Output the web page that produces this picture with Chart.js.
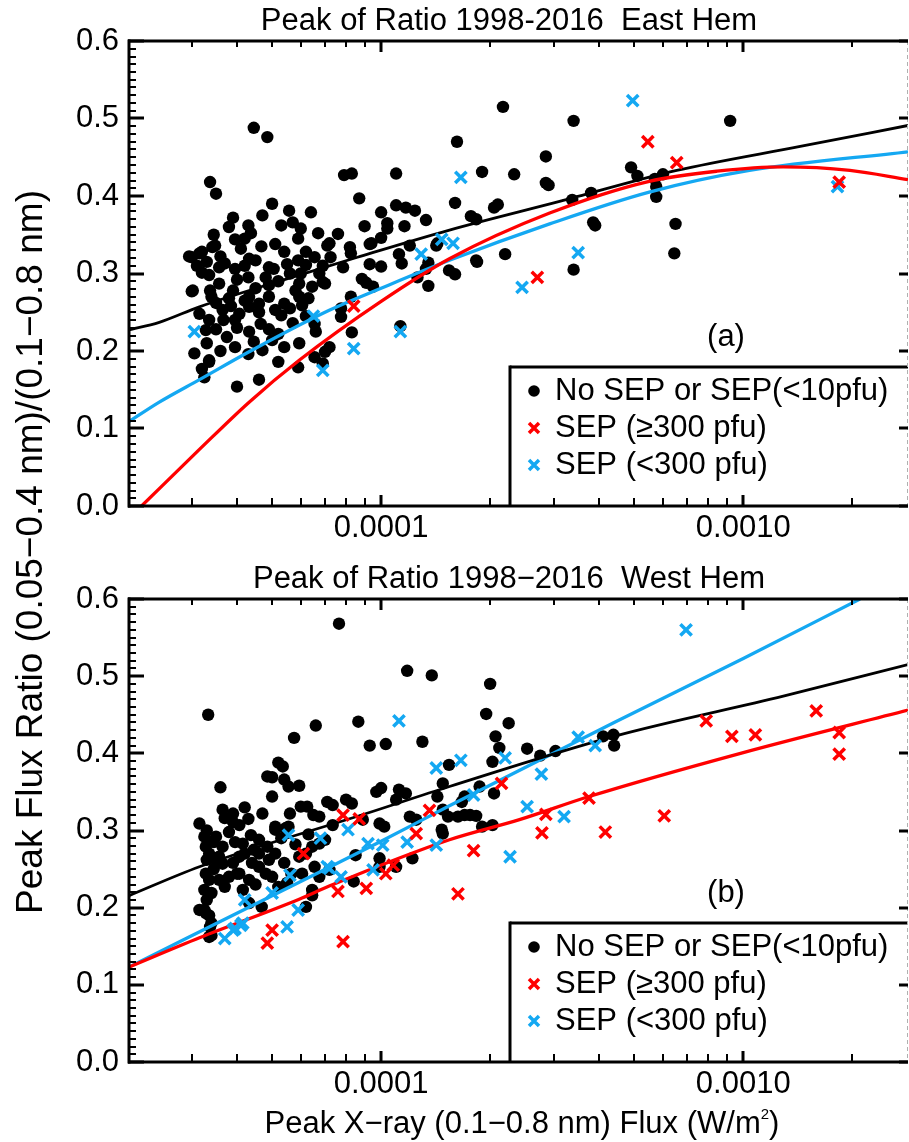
<!DOCTYPE html>
<html>
<head>
<meta charset="utf-8">
<script src="https://cdn.jsdelivr.net/npm/chart.js@4.4.1/dist/chart.umd.min.js"></script>
<style>
  html, body { margin: 0; padding: 0; background: #fff; }
  #wrap { position: relative; width: 909px; height: 1142px; }
  canvas { position: absolute; left: 0; top: 0; }
</style>
</head>
<body>
<div id="wrap">
  <canvas id="west" width="909" height="1142"></canvas>
  <canvas id="east" width="909" height="1142"></canvas>
</div>
<script>
const FONT = "'Liberation Sans', Arial, Helvetica, sans-serif";
const RED = "#ff0000";
const BLUE = "#14a8f2";

// axes
const xRange = [2.0e-5, 2.85e-3];
const yRange = [0, 0.6];
const xTickValues = [0.0001, 0.001];
const xTickLabels = ["0.0001", "0.0010"];

const titles = ["Peak of Ratio 1998-2016  East Hem", "Peak of Ratio 1998\u22122016  West Hem"];
const panelLabels = ["(a)", "(b)"];
const legendLabels = ["No SEP or SEP(<10pfu)", "SEP (\u2265300 pfu)", "SEP (<300 pfu)"];
const yTitle = "Peak Flux Ratio (0.05\u22120.4 nm)/(0.1\u22120.8 nm)";
const xTitle = "Peak X\u2212ray (0.1\u22120.8 nm) Flux (W/m";

// east hemisphere: [peak flux, ratio]
const eastNoSep = [
  [3.37e-5,0.418],[3.5e-5,0.403],[5.0e-5,0.390],[5.57e-5,0.381],[6.4e-5,0.379],[4.7e-5,0.375],[3.9e-5,0.372],[5.7e-5,0.366],[5.3e-5,0.362],[3.8e-5,0.360],
  [4.37e-5,0.352],[3.95e-5,0.344],[4.67e-5,0.335],[3.48e-5,0.336],[5.1e-5,0.338],[5.4e-5,0.328],[4.1e-5,0.332],[3.2e-5,0.328],[3.0e-5,0.321],[6.2e-5,0.328],
  [6.55e-5,0.321],[7.1e-5,0.336],[3.7e-5,0.313],[4.32e-5,0.319],[4.5e-5,0.317],[5.9e-5,0.317],[3.57e-5,0.308],[4.9e-5,0.308],[5.05e-5,0.306],[3.95e-5,0.306],
  [6.2e-5,0.311],[3.2e-5,0.301],[4.3e-5,0.295],[3.35e-5,0.298],[5.6e-5,0.300],[6.75e-5,0.300],[3.57e-5,0.287],[4.9e-5,0.285],[5.94e-5,0.287],[7.0e-5,0.287],
  [3.02e-5,0.278],[3.37e-5,0.278],[3.9e-5,0.278],[4.5e-5,0.281],[6.45e-5,0.283],[5.8e-5,0.278],[3.4e-5,0.270],[3.8e-5,0.268],[4.32e-5,0.270],[4.9e-5,0.270],
  [5.94e-5,0.270],[4.6e-5,0.261],[5.4e-5,0.261],[6.05e-5,0.259],[3.15e-5,0.248],[3.65e-5,0.253],[4.06e-5,0.248],[4.32e-5,0.257],[4.6e-5,0.250],[5.3e-5,0.246],
  [3.35e-5,0.240],[3.67e-5,0.240],[3.95e-5,0.240],[4.65e-5,0.235],[6.55e-5,0.235],[3.28e-5,0.227],[4.32e-5,0.225],[5.2e-5,0.222],[6.6e-5,0.225],[3.3e-5,0.210],
  [3.75e-5,0.218],[4.45e-5,0.212],[4.7e-5,0.201],[5.4e-5,0.205],[5.94e-5,0.210],[3.95e-5,0.205],[3.05e-5,0.197],[7.0e-5,0.199],[5.2e-5,0.186],[6.55e-5,0.192],
  [3.35e-5,0.186],[3.2e-5,0.177],[3.25e-5,0.166],[5.9e-5,0.179],[6.9e-5,0.184],[4.6e-5,0.163],[4.0e-5,0.154],[4.45e-5,0.488],[4.85e-5,0.476],[7.9e-5,0.427],
  [8.3e-5,0.429],[1.1e-4,0.429],[1.62e-4,0.470],[8.7e-5,0.397],[1.1e-4,0.388],[1.17e-4,0.385],[1.24e-4,0.381],[1.0e-4,0.379],[1.33e-4,0.369],[1.04e-4,0.365],
  [1.04e-4,0.358],[9.0e-5,0.361],[1.16e-4,0.361],[1.6e-4,0.391],[1.0e-4,0.346],[9.3e-5,0.338],[7.6e-5,0.351],[7.2e-5,0.339],[8.2e-5,0.334],[1.42e-4,0.336],
  [1.2e-4,0.336],[2.95e-5,0.322],[3.15e-5,0.326],[3.42e-5,0.334],[2.17e-4,0.515],[1.9e-4,0.431],[2.33e-4,0.428],[2.05e-4,0.385],[2.1e-4,0.389],[1.77e-4,0.374],
  [1.83e-4,0.370],[9.4e-5,0.339],[1.43e-4,0.339],[2.2e-4,0.325],[1.84e-4,0.315],[7.25e-5,0.321],[1.12e-4,0.325],[1.14e-4,0.313],[8.25e-5,0.326],[9.3e-5,0.312],
  [1.0e-4,0.309],[7.85e-5,0.308],[1.35e-4,0.314],[1.33e-4,0.306],[1.54e-4,0.304],[1.6e-4,0.299],[8.85e-5,0.293],[9.1e-5,0.288],[9.5e-5,0.283],[6.9e-5,0.289],
  [1.26e-4,0.295],[1.35e-4,0.284],[8.25e-5,0.270],[7.75e-5,0.255],[7.75e-5,0.244],[8.3e-5,0.224],[1.13e-4,0.232],[7.2e-5,0.205],[3.4e-4,0.497],[9.2e-4,0.497],
  [2.85e-4,0.451],[2.85e-4,0.417],[2.9e-4,0.414],[4.9e-4,0.437],[5.1e-4,0.426],[5.7e-4,0.422],[6.0e-4,0.428],[5.75e-4,0.412],[5.75e-4,0.399],[3.8e-4,0.404],
  [3.37e-4,0.395],[3.85e-4,0.366],[3.9e-4,0.362],[6.5e-4,0.364],[6.45e-4,0.326],[1.83e-4,0.317],[3.4e-4,0.305],[3.0e-5,0.277],[3.35e-5,0.188],
  [3.1e-5,0.310],[3.3e-5,0.315],[3.6e-5,0.322],[4.2e-5,0.310],[4.0e-5,0.292],[4.8e-5,0.295],[5.2e-5,0.290],[5.5e-5,0.312],[6.0e-5,0.300],[6.9e-5,0.310],
  [3.5e-5,0.262],[3.85e-5,0.258],[4.2e-5,0.265],[5.1e-5,0.253],[5.6e-5,0.255],[6.3e-5,0.268],[3.5e-5,0.228],[4.0e-5,0.230],[4.9e-5,0.228],[5.7e-5,0.236],
  [6.2e-5,0.245],[3.6e-5,0.200],[4.3e-5,0.196],[5.0e-5,0.214],[3.45e-5,0.350],[4.2e-5,0.345],[5.9e-5,0.345],[6.7e-5,0.352],[4.3e-5,0.362],[6.0e-5,0.358]
];
const eastSepHigh = [[8.4e-5,0.258],[2.7e-4,0.295],[5.45e-4,0.470],[6.55e-4,0.443],[1.84e-3,0.418]];
const eastSepLow = [
  [3.05e-5,0.225],[6.5e-5,0.245],[6.9e-5,0.175],[8.4e-5,0.203],[1.13e-4,0.225],[1.29e-4,0.325],[1.47e-4,0.344],
  [1.58e-4,0.339],[1.66e-4,0.424],[2.45e-4,0.282],[3.5e-4,0.327],[4.95e-4,0.523],[1.82e-3,0.412]
];
const eastFitNoSep = [[2.0e-5,0.227],[2.44e-5,0.237],[3.15e-5,0.257],[5.94e-5,0.298],[8.6e-5,0.321],[1.544e-4,0.356],[3.11e-4,0.393],[6.55e-4,0.433],[1.436e-3,0.464],[2.85e-3,0.491]];
const eastFitHigh = [[2.18e-5,0.0],[3.15e-5,0.073],[4.32e-5,0.134],[5.94e-5,0.188],[1.0e-4,0.264],[1.544e-4,0.319],[2.92e-4,0.378],[5.5e-4,0.419],[8.46e-4,0.432],[1.29e-3,0.4375],[1.97e-3,0.433],[2.85e-3,0.421]];
const eastFitLow = [[2.0e-5,0.108],[2.44e-5,0.134],[3.15e-5,0.163],[4.32e-5,0.199],[7.19e-5,0.2525],[1.0e-4,0.281],[1.544e-4,0.317],[2.92e-4,0.364],[5.5e-4,0.405],[1.04e-3,0.433],[2.85e-3,0.457]];

// west hemisphere
const westNoSep = [
  [7.65e-5,0.568],[1.18e-4,0.507],[1.38e-4,0.501],[3.33e-5,0.450],[6.6e-5,0.436],[5.75e-5,0.420],[8.65e-5,0.441],[9.3e-5,0.410],[1.03e-4,0.412],[1.3e-4,0.415],
  [1.54e-4,0.385],[5.2e-5,0.388],[5.35e-5,0.383],[4.85e-5,0.370],[5.0e-5,0.369],[5.4e-5,0.366],[5.55e-5,0.357],[5.94e-5,0.358],[3.6e-5,0.356],[4.2e-5,0.330],
  [5.0e-5,0.344],[3.65e-5,0.327],[3.9e-5,0.322],[3.15e-5,0.309],[9.7e-5,0.350],[1.0e-4,0.355],[1.12e-4,0.353],[1.17e-4,0.348],[1.48e-4,0.361],[1.43e-4,0.344],
  [7.1e-5,0.337],[7.35e-5,0.333],[8.0e-5,0.340],[8.3e-5,0.335],[6.0e-5,0.331],[6.25e-5,0.331],[5.6e-5,0.322],[6.5e-5,0.320],[6.75e-5,0.318],[7.35e-5,0.307],
  [9.9e-5,0.309],[1.02e-4,0.305],[1.1e-4,0.340],[1.2e-4,0.318],[1.25e-4,0.314],[1.48e-4,0.327],[1.53e-4,0.318],[1.47e-4,0.301],[8.9e-5,0.314],[5.1e-5,0.305],
  [5.55e-5,0.305],[3.25e-5,0.292],[3.5e-5,0.292],[3.28e-5,0.279],[3.35e-5,0.270],[3.7e-5,0.316],[3.9e-5,0.311],[4.06e-5,0.307],[4.6e-5,0.288],[4.37e-5,0.294],
  [3.95e-5,0.285],[5.1e-5,0.301],[5.45e-5,0.303],[3.3e-5,0.262],[3.5e-5,0.262],[3.65e-5,0.257],[4.06e-5,0.266],[4.2e-5,0.270],[4.6e-5,0.253],[4.9e-5,0.262],
  [5.1e-5,0.270],[4.8e-5,0.244],[5.0e-5,0.240],[4.0e-5,0.244],[4.32e-5,0.236],[3.28e-5,0.244],[3.35e-5,0.236],[3.25e-5,0.223],[3.4e-5,0.219],[3.7e-5,0.227],
  [4.15e-5,0.223],[3.3e-5,0.210],[3.25e-5,0.197],[3.35e-5,0.190],[4.68e-5,0.201],[5.2e-5,0.227],[5.65e-5,0.244],[6.05e-5,0.244],[5.94e-5,0.266],[6.2e-5,0.270],
  [6.45e-5,0.279],[6.75e-5,0.283],[7.0e-5,0.288],[6.55e-5,0.253],[6.45e-5,0.223],[6.2e-5,0.201],[6.75e-5,0.240],[7.2e-5,0.249],[3.37e-5,0.175],[3.4e-5,0.164],
  [3.15e-5,0.197],[3.28e-5,0.193],[3.35e-5,0.162],[3.4e-5,0.180],[6.45e-5,0.216],[8.4e-5,0.234],[1.1e-4,0.253],[1.22e-4,0.264],[1.48e-4,0.296],[2.0e-4,0.490],
  [1.95e-4,0.451],[2.25e-4,0.439],[2.07e-4,0.422],[2.12e-4,0.407],[2.03e-4,0.389],[1.87e-4,0.357],[1.7e-4,0.344],[1.67e-4,0.337],[2.05e-4,0.348],[1.63e-4,0.318],
  [1.7e-4,0.320],[1.76e-4,0.320],[1.83e-4,0.319],[1.9e-4,0.305],[2.03e-4,0.307],[8.5e-5,0.268],[9.9e-5,0.264],[9.9e-5,0.253],[2.53e-4,0.406],[2.75e-4,0.397],
  [3.03e-4,0.403],[4.1e-4,0.422],[4.38e-4,0.424],[4.4e-4,0.410],[3.57e-5,0.266],[3.65e-5,0.279],[4.15e-5,0.283],[4.45e-5,0.275],[3.57e-5,0.236],[4.06e-5,0.244],
  [4.6e-5,0.270],[4.85e-5,0.279],[4.32e-5,0.206],
  [3.3e-5,0.300],[3.45e-5,0.285],[3.8e-5,0.298],[4.3e-5,0.315],[4.7e-5,0.322],[5.3e-5,0.290],[5.8e-5,0.282],[6.3e-5,0.295],[3.45e-5,0.250],[3.9e-5,0.258],
  [4.4e-5,0.258],[5.4e-5,0.258],[3.8e-5,0.240],[4.5e-5,0.230],[5.5e-5,0.232]
];
const westSepHigh = [
  [7.85e-5,0.320],[8.7e-5,0.315],[1.36e-4,0.326],[1.25e-4,0.296],[6.1e-5,0.270],[5.0e-5,0.171],[4.85e-5,0.154],[7.6e-5,0.221],[7.85e-5,0.156],
  [9.1e-5,0.225],[1.03e-4,0.244],[1.08e-4,0.255],[1.63e-4,0.218],[2.15e-4,0.361],[1.8e-4,0.274],[2.85e-4,0.321],[2.78e-4,0.297],[3.75e-4,0.342],
  [4.16e-4,0.298],[6.05e-4,0.319],[7.9e-4,0.442],[9.3e-4,0.422],[1.08e-3,0.424],[1.59e-3,0.455],[1.84e-3,0.427],[1.84e-3,0.399]
];
const westSepLow = [
  [1.12e-4,0.442],[1.42e-4,0.381],[8.1e-5,0.301],[5.55e-5,0.294],[6.8e-5,0.290],[5.6e-5,0.242],[7.2e-5,0.251],[4.2e-5,0.210],[5.0e-5,0.219],
  [5.9e-5,0.197],[5.5e-5,0.175],[3.9e-5,0.171],[4.15e-5,0.180],[3.7e-5,0.160],[3.95e-5,0.173],[4.1e-5,0.177],[7.1e-5,0.253],[7.75e-5,0.240],
  [9.2e-5,0.283],[1.01e-4,0.281],[9.5e-5,0.249],[1.18e-4,0.285],[1.42e-4,0.281],[1.66e-4,0.391],[2.2e-4,0.394],[1.8e-4,0.346],[2.27e-4,0.266],
  [6.95e-4,0.560],[2.77e-4,0.373],[3.5e-4,0.421],[3.9e-4,0.410],[2.53e-4,0.331],[3.2e-4,0.318]
];
const westFitNoSep = [[2.0e-5,0.215],[3.15e-5,0.253],[9.1e-5,0.322],[1.544e-4,0.357],[4.4e-4,0.422],[1.29e-3,0.474],[2.85e-3,0.515]];
const westFitHigh = [[2.0e-5,0.1225],[3.15e-5,0.161],[5.94e-5,0.211],[7.19e-5,0.228],[1.544e-4,0.288],[2.41e-4,0.314],[3.75e-4,0.344],[1.0e-3,0.401],[2.85e-3,0.456]];
const westFitLow = [[2.0e-5,0.1225],[5.94e-5,0.233],[1.0e-4,0.286],[1.544e-4,0.332],[4.4e-4,0.440],[1.0e-3,0.523],[2.1e-3,0.6]];

Chart.defaults.font.family = FONT;
Chart.defaults.color = "#000";

const pts = (arr) => arr.map(([x, y]) => ({ x, y }));

function dots(data) {
  return {
    label: legendLabels[0], data: pts(data), showLine: false, pointStyle: "circle",
    pointRadius: 6.2, pointBorderWidth: 0, backgroundColor: "#000", borderColor: "#000",
    order: 2, legendOrder: 0
  };
}
function crosses(data, color, idx) {
  return {
    label: legendLabels[idx], data: pts(data), showLine: false, pointStyle: "crossRot",
    pointRadius: 8, pointBorderWidth: 3.5, borderColor: color, backgroundColor: color,
    order: 0, legendOrder: idx
  };
}
function fit(data, color, width) {
  return {
    label: "fit", data: pts(data), showLine: true, pointRadius: 0, borderColor: color,
    borderWidth: width, cubicInterpolationMode: "monotone", fill: false, order: 1
  };
}

// horizontal / vertical bars, drawn as filled rects so they stay crisp
function hbar(ctx, x1, x2, y, w) { ctx.fillRect(Math.min(x1, x2), y - w / 2, Math.abs(x2 - x1), w); }
function vbar(ctx, x, y1, y2, w) { ctx.fillRect(x - w / 2, Math.min(y1, y2), w, Math.abs(y2 - y1)); }

const framePlugin = {
  id: "frame",
  afterDatasetsDraw(chart, args, o) {
    const { ctx, chartArea: a } = chart;
    const xs = chart.scales.x, ys = chart.scales.y;
    ctx.save();

    // legend box
    const boxTop = a.bottom - 139, boxLeft = 510;
    ctx.fillStyle = "#fff";
    ctx.fillRect(boxLeft, boxTop, a.right - boxLeft, a.bottom - boxTop);
    ctx.fillStyle = "#000";
    vbar(ctx, boxLeft, boxTop - 1.5, a.bottom, 3);
    hbar(ctx, boxLeft, a.right, boxTop, 3);
    const entries = chart.data.datasets
      .filter((d) => d.legendOrder !== undefined)
      .sort((p, q) => p.legendOrder - q.legendOrder);
    ctx.font = `31px ${FONT}`;
    ctx.textBaseline = "middle";
    ctx.textAlign = "left";
    entries.forEach((d, i) => {
      const cy = a.bottom - 115 + i * 37, cx = 534;
      if (d.pointStyle === "circle") {
        ctx.fillStyle = d.backgroundColor;
        ctx.beginPath(); ctx.arc(cx, cy, 5.8, 0, Math.PI * 2); ctx.fill();
      } else {
        ctx.strokeStyle = d.borderColor;
        ctx.lineWidth = 3.5;
        const r = 5;
        ctx.beginPath();
        ctx.moveTo(cx - r, cy - r); ctx.lineTo(cx + r, cy + r);
        ctx.moveTo(cx - r, cy + r); ctx.lineTo(cx + r, cy - r);
        ctx.stroke();
      }
      ctx.fillStyle = "#000";
      ctx.fillText(d.label, 555, cy);
    });

    // right edge
    ctx.setLineDash([4, 3]);
    ctx.strokeStyle = "#b0b0b0";
    ctx.lineWidth = 1;
    ctx.beginPath(); ctx.moveTo(a.right - 0.5, a.top); ctx.lineTo(a.right - 0.5, a.bottom); ctx.stroke();
    ctx.setLineDash([]);

    // frame
    ctx.fillStyle = "#000";
    vbar(ctx, a.left + 1, a.top - 1.5, a.bottom + 1.5, 3);
    hbar(ctx, a.left, a.right, a.top, 3);
    hbar(ctx, a.left, a.right, a.bottom, 3);

    // y ticks (minor every 0.01)
    for (let i = 0; i <= 60; i++) {
      const py = Math.round(ys.getPixelForValue(i / 100));
      const major = i % 10 === 0;
      hbar(ctx, a.left, a.left + (major ? 16 : 8), py, major ? 3 : 2);
      if (major) hbar(ctx, a.right, a.right - 9, py, 3);
    }
    // x ticks (log minor)
    for (let d = -5; d <= -3; d++) {
      for (let m = 1; m <= 9; m++) {
        const v = m * Math.pow(10, d);
        if (v <= xs.min * 1.001 || v > xs.max) continue;
        const px = Math.round(xs.getPixelForValue(v));
        const major = m === 1;
        vbar(ctx, px, a.bottom, a.bottom - (major ? 11 : 8), major ? 3 : 2);
        vbar(ctx, px, a.top, a.top + (major ? 11 : 6), major ? 3 : 2);
      }
    }

    // texts
    ctx.fillStyle = "#000";
    ctx.textBaseline = "alphabetic";
    ctx.textAlign = "center";
    ctx.font = `31px ${FONT}`;
    ctx.fillText(o.title, 509, a.top - 11);
    ctx.fillText(o.panel, 726, a.bottom - 160);

    if (o.yTitle) {
      ctx.save();
      ctx.translate(42, 552);
      ctx.rotate(-Math.PI / 2);
      ctx.font = `37px ${FONT}`;
      ctx.fillText(yTitle, 0, 0);
      ctx.restore();
    }
    if (o.xTitle) {
      ctx.font = `31px ${FONT}`;
      ctx.textAlign = "left";
      const w1 = ctx.measureText(xTitle).width;
      ctx.font = `15px ${FONT}`;
      const w2 = ctx.measureText("2").width;
      ctx.font = `31px ${FONT}`;
      const w3 = ctx.measureText(")").width;
      const x0 = 522 - (w1 + w2 + w3) / 2;
      const base = 1133;
      ctx.fillText(xTitle, x0, base);
      ctx.font = `15px ${FONT}`;
      ctx.fillText("2", x0 + w1, base - 14);
      ctx.font = `31px ${FONT}`;
      ctx.fillText(")", x0 + w1 + w2, base);
    }
    ctx.restore();
  }
};

function makePanel(id, idx, sets, padding) {
  return new Chart(document.getElementById(id), {
    type: "scatter",
    data: {
      datasets: [
        dots(sets.noSep),
        fit(sets.fitNoSep, "#000", 2.8),
        fit(sets.fitHigh, RED, 3.3),
        fit(sets.fitLow, BLUE, 3.3),
        crosses(sets.high, RED, 1),
        crosses(sets.low, BLUE, 2)
      ]
    },
    options: {
      responsive: false,
      animation: false,
      devicePixelRatio: 1,
      layout: { padding, autoPadding: false },
      plugins: {
        legend: { display: false },
        tooltip: { enabled: false },
        frame: { title: titles[idx], panel: panelLabels[idx], yTitle: idx === 0, xTitle: idx === 1 }
      },
      scales: {
        x: {
          type: "logarithmic",
          min: xRange[0],
          max: xRange[1],
          grid: { display: false, drawTicks: false },
          border: { display: false },
          afterBuildTicks: (s) => { s.ticks = xTickValues.map((v) => ({ value: v })); },
          afterFit: (s) => { s.height = 50; },
          ticks: {
            autoSkip: false, maxRotation: 0, padding: 4,
            font: { size: 31 },
            callback: (v, i) => xTickLabels[i]
          }
        },
        y: {
          min: yRange[0],
          max: yRange[1],
          grid: { display: false, drawTicks: false },
          border: { display: false },
          afterFit: (s) => { s.width = 128; },
          ticks: {
            stepSize: 0.1, padding: 9,
            font: { size: 31 },
            callback: (v) => v.toFixed(1)
          }
        }
      }
    },
    plugins: [framePlugin]
  });
}

makePanel("east", 0, {
  noSep: eastNoSep, high: eastSepHigh, low: eastSepLow,
  fitNoSep: eastFitNoSep, fitHigh: eastFitHigh, fitLow: eastFitLow
}, { top: 41, left: 0, right: 1, bottom: 586 });

makePanel("west", 1, {
  noSep: westNoSep, high: westSepHigh, low: westSepLow,
  fitNoSep: westFitNoSep, fitHigh: westFitHigh, fitLow: westFitLow
}, { top: 599, left: 0, right: 1, bottom: 30 });
</script>
</body>
</html>
